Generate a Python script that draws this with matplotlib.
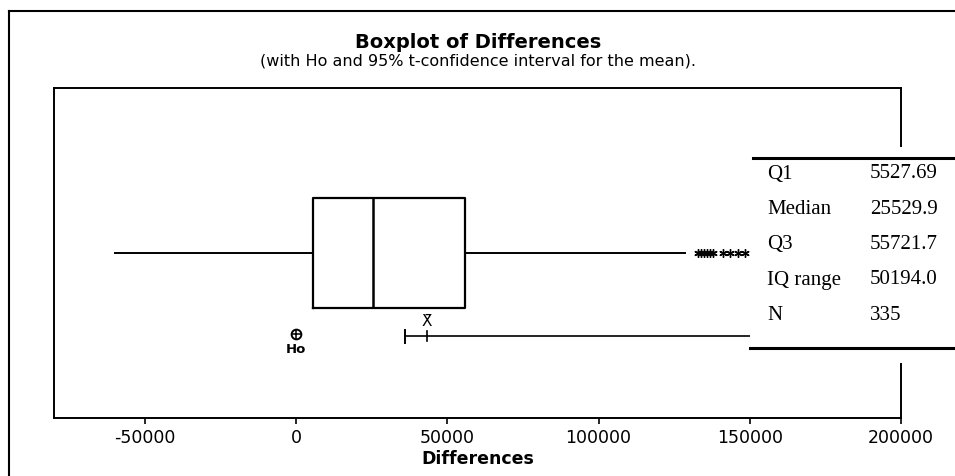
import numpy as np
import matplotlib.pyplot as plt
from matplotlib.patches import Rectangle
from matplotlib.lines import Line2D

# boxplot summary
q1 = 5527.69
median = 25529.9
q3 = 55721.7
whisker_lo = -60000
whisker_hi = 128500
outliers = [133000, 134000, 135000, 136000, 137000, 138000, 141000, 143500, 146000, 148500]

# hypothesis value and mean CI
ho = 0
ci_lo = 36000
mean_x = 43200
ci_hi = 150000

ticks = [-50000, 0, 50000, 100000, 150000, 200000]

table_labels = ["Q1", "Median", "Q3", "IQ range", "N"]
table_values = ["5527.69", "25529.9", "55721.7", "50194.0", "335"]

W, H = 955, 476
fig = plt.figure(figsize=(W / 100, H / 100), dpi=100)

def fx(px):
    return px / W

def fy(py):
    return 1 - py / H

ax = fig.add_axes([fx(54), fy(418), fx(901) - fx(54), fy(88) - fy(418)])
ax.set_xlim(-80000, 200000)
ax.set_ylim(0, 1)

stats = [{"med": median, "q1": q1, "q3": q3, "whislo": whisker_lo,
          "whishi": whisker_hi, "fliers": outliers}]
ax.bxp(stats, positions=[0.5], widths=0.336, orientation="horizontal",
       showcaps=False,
       boxprops=dict(color="black", lw=1.6),
       medianprops=dict(color="black", lw=1.8),
       whiskerprops=dict(color="black", lw=1.4),
       flierprops=dict(marker=(6, 2, 0), markersize=6, markeredgecolor="black",
                       markeredgewidth=1.0, linestyle="none"))

# Ho marker
ax.plot([ho], [0.255], marker="o", ms=7, mfc="white", mec="black", mew=1.4)
ax.plot([ho], [0.255], marker="+", ms=7, mec="black", mew=1.1)
ax.text(ho, 0.226, "Ho", ha="center", va="top", fontsize=9.5, fontweight="bold")

# confidence interval for the mean
ci_y = 0.248
ax.plot([ci_lo, ci_hi], [ci_y, ci_y], color="black", lw=1.2)
ax.plot([ci_lo, ci_lo], [ci_y - 0.02, ci_y + 0.02], color="black", lw=1.4)
ax.plot([mean_x, mean_x], [ci_y - 0.015, ci_y + 0.015], color="black", lw=1.2)
ax.text(mean_x, ci_y + 0.022, "X\u0304", ha="center", va="bottom",
        fontsize=11)

ax.set_yticks([])
ax.set_xticks(ticks)
ax.set_xticklabels([str(t) for t in ticks], fontsize=12.5)
ax.tick_params(axis="x", direction="out", length=4, width=1.2, pad=4)
for s in ax.spines.values():
    s.set_linewidth(1.4)
ax.set_xlabel("Differences", fontsize=12.5, fontweight="bold", labelpad=2)

fig.text(fx(478), fy(43), "Boxplot of Differences", ha="center", va="center",
         fontsize=14, fontweight="bold")
fig.text(fx(478), fy(61), "(with Ho and 95% t-confidence interval for the mean).",
         ha="center", va="center", fontsize=11.5)

# outer frame (top and left edges show)
fig.add_artist(Line2D([fx(9), fx(955)], [fy(11), fy(11)], color="black", lw=1.5))
fig.add_artist(Line2D([fx(9), fx(9)], [fy(11), fy(480)], color="black", lw=1.5))

# summary table over the right side
fig.patches.append(Rectangle((fx(750), fy(363)), fx(955) - fx(750), fy(147) - fy(363),
                             transform=fig.transFigure, facecolor="white",
                             edgecolor="none", zorder=5))
fig.add_artist(Line2D([fx(753), fx(955)], [fy(158), fy(158)], color="black",
                      lw=2.2, zorder=6))
fig.add_artist(Line2D([fx(750), fx(955)], [fy(348), fy(348)], color="black",
                      lw=2.2, zorder=6))
row_y = [174, 210, 245, 280, 315]
for lab, val, py in zip(table_labels, table_values, row_y):
    fig.text(fx(767), fy(py), lab, ha="left", va="center", fontsize=15,
             family="Liberation Serif", zorder=7)
    fig.text(fx(870), fy(py), val, ha="left", va="center", fontsize=15,
             family="Liberation Serif", zorder=7)

fig.savefig("out.png", dpi=100)
